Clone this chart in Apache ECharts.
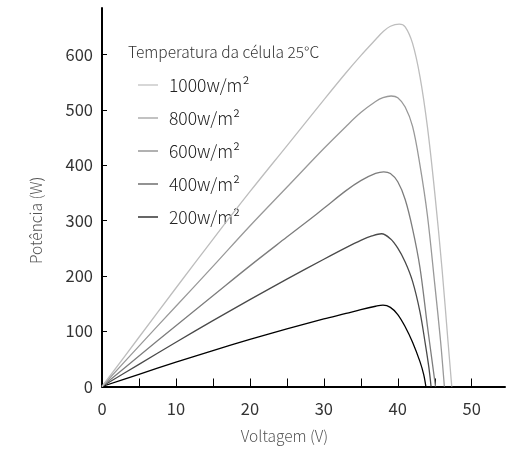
<!DOCTYPE html>
<html>
<head>
<meta charset="utf-8">
<script src="https://cdn.jsdelivr.net/npm/echarts@6/dist/echarts.min.js"></script>
<style>
html,body{margin:0;padding:0;background:#fff;}
#chart{width:517px;height:449px;}
</style>
</head>
<body>
<div id="chart"></div>
<script>
// Irradiance series names
const seriesNames = ['1000w/m²', '800w/m²', '600w/m²', '400w/m²', '200w/m²'];
// Voltage (V) and power (W)
const v1000 = [0, 5, 10, 15, 20, 25, 30, 33, 35, 37, 38, 39, 40.2, 41, 42, 43, 44, 45, 46, 46.8, 47.3];
const p1000 = [0, 89, 178, 266, 352, 435, 518, 567, 598, 627, 641, 651, 655, 650, 620, 560, 470, 350, 210, 80, 0];
const v800 = [0, 5, 10, 15, 20, 25, 30, 33, 35, 37, 38, 39.1, 40, 41, 42, 43, 44, 45, 45.8, 46.3];
const p800 = [0, 73, 145, 217, 290, 360, 430, 470, 495, 515, 522, 525, 522, 505, 470, 400, 310, 185, 80, 0];
const v600 = [0, 5, 10, 15, 20, 25, 28, 30, 33, 35, 37, 38.1, 39, 40, 41, 42, 43, 44, 44.6, 45.1];
const p600 = [0, 55, 110, 164, 218, 270, 301, 322, 354, 372, 385, 388, 385, 370, 338, 285, 215, 110, 50, 0];
const v400 = [0, 5, 10, 15, 20, 25, 30, 33, 35, 36.5, 37.8, 39, 40, 41, 42, 43, 43.7, 44.2, 44.5];
const p400 = [0, 40, 80, 119, 157, 194, 230, 251, 264, 272, 276, 267, 250, 225, 190, 135, 79, 35, 0];
const v200 = [0, 5, 10, 15, 20, 25, 30, 33, 35, 37, 38, 39, 40, 41, 42, 43, 43.5, 43.8];
const p200 = [0, 22, 44, 65, 85, 104, 122, 132, 139, 145, 147, 143, 130, 108, 80, 45, 22, 0];
// Axis tick labels
const xLabels = [0, 10, 20, 30, 40, 50];
const xTicks = [5, 10, 15, 20, 25, 30, 35, 40, 45, 50];
const yLabels = [0, 100, 200, 300, 400, 500, 600];

const voltages = [v1000, v800, v600, v400, v200];
const powers = [p1000, p800, p600, p400, p200];
const lineColors = ['#bdbdbd', '#999999', '#7d7d7d', '#4a4a4a', '#000000'];

const FONT = '"Noto Sans CJK SC", "Noto Sans", sans-serif';

const chart = echarts.init(document.getElementById('chart'), null, {renderer: 'canvas'});

const series = seriesNames.map((name, i) => ({
  name: name,
  type: 'line',
  data: voltages[i].map((v, k) => [v, powers[i][k]]),
  smooth: 0.35,
  showSymbol: false,
  symbol: 'none',
  lineStyle: {color: lineColors[i], width: 1.3},
  itemStyle: {color: lineColors[i]},
  animation: false,
  z: 5 - i
}));

chart.setOption({
  backgroundColor: '#fff',
  animation: false,
  textStyle: {fontFamily: FONT},
  title: {
    text: 'Temperatura da célula 25°C',
    left: 123,
    top: 39,
    textStyle: {fontFamily: FONT, fontSize: 15.5, fontWeight: 300, color: '#333'}
  },
  legend: {
    orient: 'vertical',
    left: 133,
    top: 70,
    itemGap: 13,
    itemWidth: 20,
    itemHeight: 1.2,
    icon: 'rect',
    data: seriesNames,
    textStyle: {fontFamily: FONT, fontSize: 17.5, fontWeight: 300, color: '#222', lineHeight: 20, padding: [0, 0, 0, 6]}
  },
  grid: {left: 102, right: 12, top: 8, bottom: 62, containLabel: false},
  xAxis: {
    type: 'value',
    min: 0,
    max: 54.5,
    interval: 5,
    name: 'Voltagem (V)',
    nameLocation: 'middle',
    nameGap: 42,
    nameTextStyle: {fontFamily: FONT, fontSize: 15.5, fontWeight: 300, color: '#555', padding: [0, 38, 0, 0]},
    axisLine: {show: true, lineStyle: {color: '#000', width: 2}},
    axisTick: {show: true, inside: true, length: 8, customValues: xTicks, lineStyle: {color: '#000', width: 1}},
    axisLabel: {customValues: xLabels, margin: 14, fontFamily: FONT, fontSize: 16.5, fontWeight: 'normal', color: '#333'},
    splitLine: {show: false}
  },
  yAxis: {
    type: 'value',
    min: 0,
    max: 684,
    interval: 100,
    name: 'Potência (W)',
    nameLocation: 'middle',
    nameGap: 58,
    nameTextStyle: {fontFamily: FONT, fontSize: 15.5, fontWeight: 300, color: '#555', padding: [0, 46, 0, 0]},
    axisLine: {show: true, lineStyle: {color: '#000', width: 2}},
    axisTick: {show: true, inside: true, length: 5, customValues: yLabels, lineStyle: {color: '#000', width: 1}},
    axisLabel: {customValues: yLabels, margin: 9, fontFamily: FONT, fontSize: 16.5, fontWeight: 'normal', color: '#333'},
    splitLine: {show: false}
  },
  series: series
});
</script>
</body>
</html>
